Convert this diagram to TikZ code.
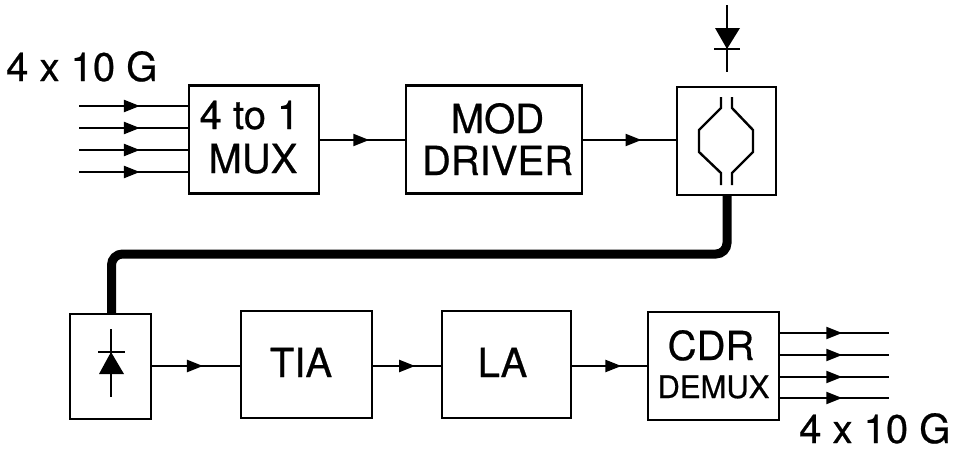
\documentclass[tikz,border=0pt]{standalone}
\usepackage{fontspec}
\setmainfont[FakeBold=0.6]{TeX Gyre Heros}
\usetikzlibrary{arrows.meta,decorations.markings,positioning}
\tikzset{
  x=1pt,y=-1pt,
  blockbox/.style={draw=black,line width=2.6pt,fill=white,inner sep=0pt,font=\fontsize{40}{44}\selectfont},
  sigline/.style={draw=black,line width=2.2pt},
  midarrow/.style={sigline,decoration={markings,mark=at position #1 with {\arrow{Triangle[length=16pt,width=12pt]}}},postaction={decorate}},
  fibre/.style={draw=black,line width=9pt,rounded corners=11pt},
  wgline/.style={draw=black,line width=2.4pt},
  barline/.style={draw=black,line width=2.2pt},
  label4/.style={inner sep=0pt,font=\fontsize{40}{44}\selectfont},
}
\newcommand{\blockat}[6]{\node[blockbox,minimum width=#4pt,minimum height=#5pt] (#1) at (#2,#3) {#6};}
% last baseline set #1 pt above the box centre
\newcommand{\lifted}[2]{\raisebox{#1pt}[0pt][0pt]{\begin{tabular}[b]{@{}c@{}}#2\end{tabular}}}
\begin{document}
\begin{tikzpicture}
\useasboundingbox (0,0) rectangle (958,450);
% top row
\blockat{mux}{254}{139.5}{130}{108}{\lifted{-33.5}{4 to 1\kern9pt\\MUX\kern2pt}}
\blockat{drv}{494}{139.5}{176}{108}{\lifted{-35.5}{MOD\kern-7pt\\[-2pt]DRIVER\kern-7pt}}
\blockat{mod}{726.5}{141}{99}{108}{}
% bottom row
\blockat{pd}{110.5}{366.5}{81}{105}{}
\blockat{tia}{306.5}{364.5}{131}{107}{\lifted{-12.5}{TIA\kern11pt}}
\blockat{la}{506.5}{364.5}{129}{107}{\lifted{-12.5}{LA\kern8pt}}
\blockat{cdr}{713.5}{366}{131}{108}{\lifted{-32}{CDR\kern5pt\\[-6pt]{\fontsize{31}{34}\selectfont DEMUX}}}
% labels
\node[label4,anchor=base west] (inlab) at (6,81) {4 x 10 G};
\node[label4,anchor=base west] (outlab) at (799,443) {4 x 10 G};
% input lines
\foreach \n/\yy in {1/106,2/128,3/150,4/172}{
  \coordinate (in\n) at (79,\yy);
  \draw[midarrow=0.56] (in\n) -- (mux.west |- in\n);
}
% output lines
\foreach \n/\yy in {1/333,2/355,3/377,4/398}{
  \coordinate (out\n) at (889,\yy);
  \draw[midarrow=0.57] (cdr.east |- out\n) -- (out\n);
}
% between blocks
\draw[midarrow=0.58] (mux.east |- 0,140) -- (drv.west |- 0,140);
\draw[midarrow=0.63] (drv.east |- 0,140) -- (mod.west |- 0,140);
\draw[midarrow=0.58] (pd.east |- 0,366) -- (tia.west |- 0,366);
\draw[midarrow=0.62] (tia.east |- 0,366) -- (la.west |- 0,366);
\draw[midarrow=0.66] (la.east |- 0,366) -- (cdr.west |- 0,366);
% fibre
\draw[fibre] (727,195) -- (727,254) -- (111.5,254) -- (111.5,314);
% modulator
\draw[wgline] (721,97) -- (721,108) -- (699,130) -- (699,152) -- (721,173) -- (721,185);
\draw[wgline] (732,97) -- (732,108) -- (753,130) -- (753,152) -- (732,173) -- (732,185);
% top diode
\draw[barline] (727,5) -- (727,72);
\draw[barline] (714,49) -- (740,49);
\fill[black] (715,28) -- (740,28) -- (727,49) -- cycle;
% bottom diode
\draw[barline] (111,329) -- (111,397);
\draw[barline] (98,352) -- (125,352);
\fill[black] (111,352) -- (99,374) -- (124,374) -- cycle;
\end{tikzpicture}
\end{document}
